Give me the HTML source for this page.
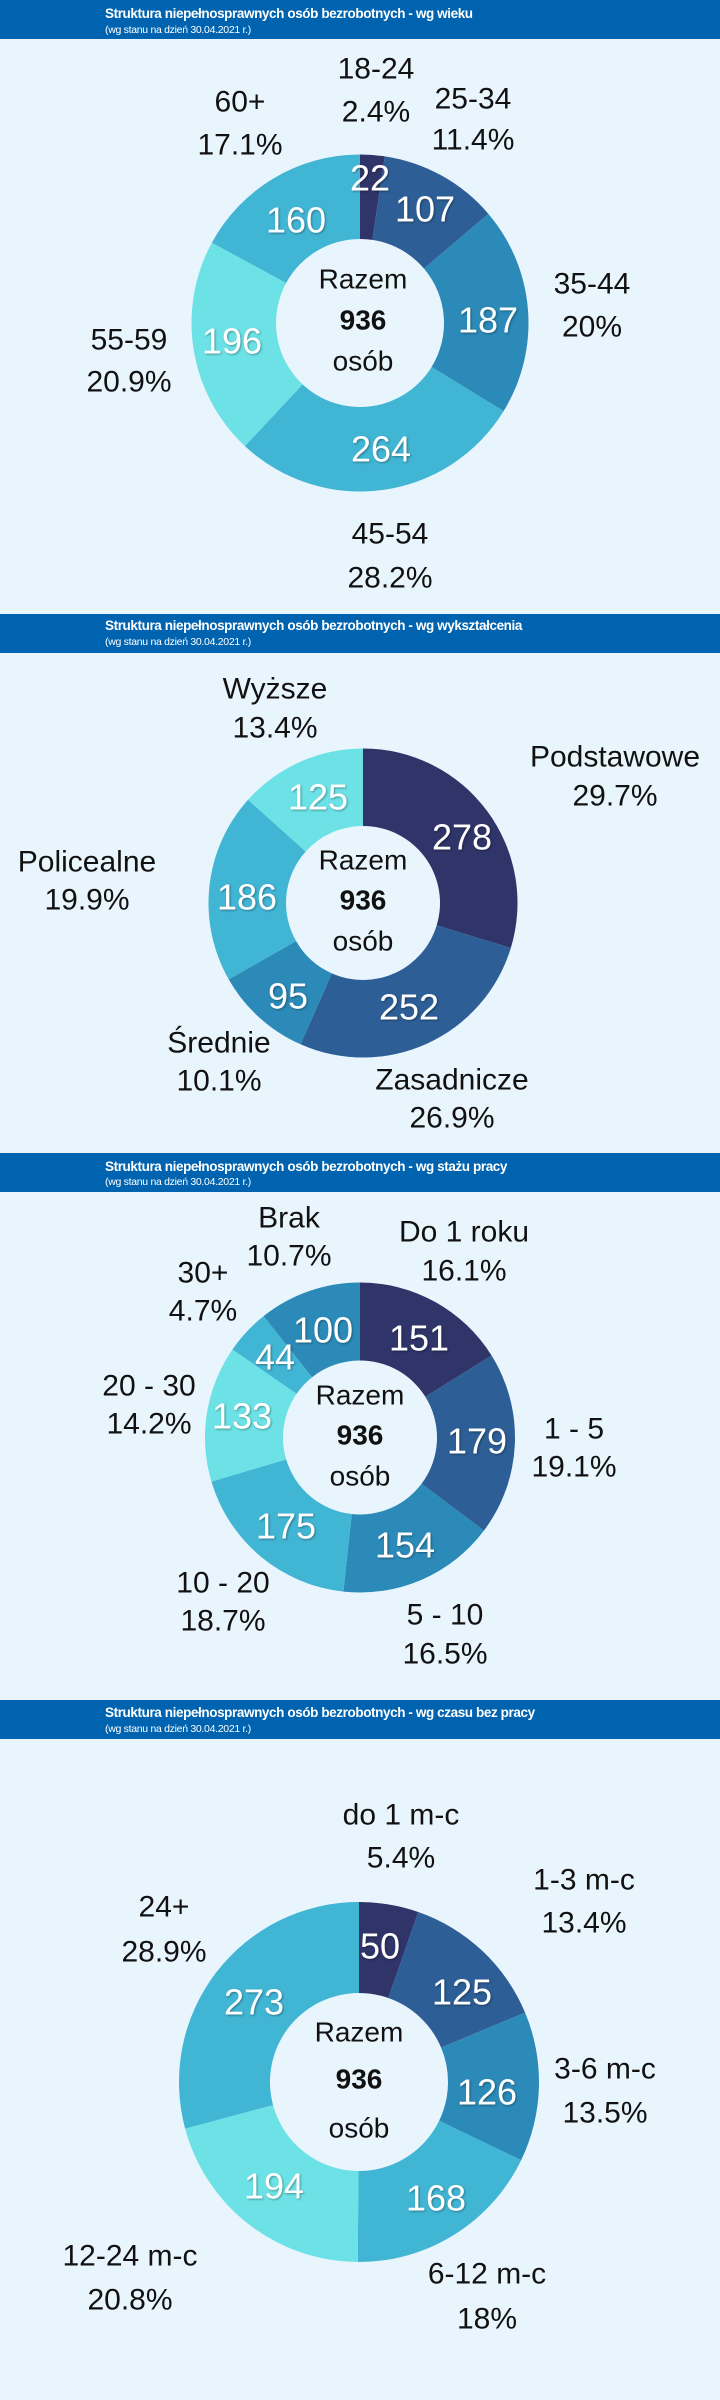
<!DOCTYPE html>
<html><head><meta charset="utf-8">
<style>
html,body{margin:0;padding:0;background:#e9f5fd;}
svg{display:block;}
text{font-family:"Liberation Sans",sans-serif;}
.h1{font-size:13.5px;font-weight:bold;fill:#fff;letter-spacing:-0.4px}
.h2{font-size:10.5px;fill:#fff;letter-spacing:-0.3px}
.lb{font-size:30px;fill:#111;text-anchor:middle;dominant-baseline:central}
.v{font-size:36px;fill:#fff;text-anchor:middle;dominant-baseline:central}
.c{font-size:28px;fill:#111;text-anchor:middle;dominant-baseline:central}
.cb{font-weight:bold}
</style></head><body>
<svg id="s" width="720" height="2400" viewBox="0 0 720 2400" xmlns="http://www.w3.org/2000/svg">
<defs><filter id="sh" x="-20%" y="-20%" width="140%" height="140%"><feDropShadow dx="1" dy="1" stdDeviation="1" flood-color="#000" flood-opacity="0.35"/></filter></defs>
<rect width="720" height="2400" fill="#e9f5fd"/>
<g id="arcs"></g>
<!-- headers -->
<rect x="0" y="0" width="720" height="39" fill="#0063b0"/>
<text class="h1" x="105" y="18">Struktura niepełnosprawnych osób bezrobotnych - wg wieku</text>
<text class="h2" x="105" y="33">(wg stanu na dzień 30.04.2021 r.)</text>
<rect x="0" y="614" width="720" height="39" fill="#0063b0"/>
<text class="h1" x="105" y="630">Struktura niepełnosprawnych osób bezrobotnych - wg wykształcenia</text>
<text class="h2" x="105" y="645">(wg stanu na dzień 30.04.2021 r.)</text>
<rect x="0" y="1153" width="720" height="39" fill="#0063b0"/>
<text class="h1" x="105" y="1171">Struktura niepełnosprawnych osób bezrobotnych - wg stażu pracy</text>
<text class="h2" x="105" y="1185">(wg stanu na dzień 30.04.2021 r.)</text>
<rect x="0" y="1700" width="720" height="39" fill="#0063b0"/>
<text class="h1" x="105" y="1717">Struktura niepełnosprawnych osób bezrobotnych - wg czasu bez pracy</text>
<text class="h2" x="105" y="1732">(wg stanu na dzień 30.04.2021 r.)</text>

<!-- chart 1 labels -->
<text class="lb" x="376" y="69">18-24</text><text class="lb" x="376" y="112">2.4%</text>
<text class="lb" x="473" y="99">25-34</text><text class="lb" x="473" y="140">11.4%</text>
<text class="lb" x="240" y="102">60+</text><text class="lb" x="240" y="145">17.1%</text>
<text class="lb" x="592" y="284">35-44</text><text class="lb" x="592" y="327">20%</text>
<text class="lb" x="129" y="340">55-59</text><text class="lb" x="129" y="382">20.9%</text>
<text class="lb" x="390" y="534">45-54</text><text class="lb" x="390" y="578">28.2%</text>
<text class="c" x="363" y="279">Razem</text><text class="c cb" x="363" y="320">936</text><text class="c" x="363" y="361">osób</text>
<g filter="url(#sh)">
<text class="v" x="370" y="178">22</text><text class="v" x="425" y="209">107</text><text class="v" x="488" y="320">187</text>
<text class="v" x="381" y="449">264</text><text class="v" x="232" y="341">196</text><text class="v" x="296" y="220">160</text>
</g>

<!-- chart 2 -->
<text class="lb" x="275" y="689">Wyższe</text><text class="lb" x="275" y="728">13.4%</text>
<text class="lb" x="615" y="757">Podstawowe</text><text class="lb" x="615" y="796">29.7%</text>
<text class="lb" x="87" y="862">Policealne</text><text class="lb" x="87" y="900">19.9%</text>
<text class="lb" x="219" y="1043">Średnie</text><text class="lb" x="219" y="1081">10.1%</text>
<text class="lb" x="452" y="1080">Zasadnicze</text><text class="lb" x="452" y="1118">26.9%</text>
<text class="c" x="363" y="860">Razem</text><text class="c cb" x="363" y="900">936</text><text class="c" x="363" y="941">osób</text>
<g filter="url(#sh)">
<text class="v" x="462" y="837">278</text><text class="v" x="409" y="1007">252</text><text class="v" x="288" y="996">95</text>
<text class="v" x="247" y="897">186</text><text class="v" x="318" y="797">125</text>
</g>

<!-- chart 3 -->
<text class="lb" x="289" y="1218">Brak</text><text class="lb" x="289" y="1256">10.7%</text>
<text class="lb" x="464" y="1232">Do 1 roku</text><text class="lb" x="464" y="1271">16.1%</text>
<text class="lb" x="203" y="1273">30+</text><text class="lb" x="203" y="1311">4.7%</text>
<text class="lb" x="149" y="1386">20 - 30</text><text class="lb" x="149" y="1424">14.2%</text>
<text class="lb" x="574" y="1429">1 - 5</text><text class="lb" x="574" y="1467">19.1%</text>
<text class="lb" x="223" y="1583">10 - 20</text><text class="lb" x="223" y="1621">18.7%</text>
<text class="lb" x="445" y="1615">5 - 10</text><text class="lb" x="445" y="1654">16.5%</text>
<text class="c" x="360" y="1395">Razem</text><text class="c cb" x="360" y="1435">936</text><text class="c" x="360" y="1476">osób</text>
<g filter="url(#sh)">
<text class="v" x="419" y="1338">151</text><text class="v" x="477" y="1441">179</text><text class="v" x="405" y="1545">154</text>
<text class="v" x="286" y="1526">175</text><text class="v" x="242" y="1416">133</text><text class="v" x="275" y="1357">44</text>
<text class="v" x="323" y="1330">100</text>
</g>

<!-- chart 4 -->
<text class="lb" x="401" y="1815">do 1 m-c</text><text class="lb" x="401" y="1858">5.4%</text>
<text class="lb" x="584" y="1880">1-3 m-c</text><text class="lb" x="584" y="1923">13.4%</text>
<text class="lb" x="164" y="1907">24+</text><text class="lb" x="164" y="1952">28.9%</text>
<text class="lb" x="605" y="2069">3-6 m-c</text><text class="lb" x="605" y="2113">13.5%</text>
<text class="lb" x="130" y="2256">12-24 m-c</text><text class="lb" x="130" y="2300">20.8%</text>
<text class="lb" x="487" y="2274">6-12 m-c</text><text class="lb" x="487" y="2319">18%</text>
<text class="c" x="359" y="2032">Razem</text><text class="c cb" x="359" y="2079">936</text><text class="c" x="359" y="2128">osób</text>
<g filter="url(#sh)">
<text class="v" x="380" y="1946">50</text><text class="v" x="462" y="1992">125</text><text class="v" x="487" y="2092">126</text>
<text class="v" x="436" y="2198">168</text><text class="v" x="274" y="2186">194</text><text class="v" x="254" y="2002">273</text>
</g>
</svg>
<script>
(function(){
var D='#2f3469',M='#2d5e96',B='#2b8ab8',L='#41b5d4',C='#6ce2e6';
var charts=[
 {cx:360,cy:323,rx:168.5,ry:168.5,ix:84,iy:84,v:[22,107,187,264,196,160],c:[D,M,B,L,C,L]},
 {cx:363,cy:903,rx:154.5,ry:154.5,ix:77,iy:77,v:[278,252,95,186,125],c:[D,M,B,L,C]},
 {cx:360,cy:1437.5,rx:155,ry:155,ix:77,iy:77,v:[151,179,154,175,133,44,100],c:[D,M,B,L,C,L,B]},
 {cx:359,cy:2082,rx:180,ry:180,ix:89,iy:89,v:[50,125,126,168,194,273],c:[D,M,B,L,C,L]}
];
var g=document.getElementById('arcs'),ns='http://www.w3.org/2000/svg';
charts.forEach(function(ch){
 var tot=ch.v.reduce(function(a,b){return a+b},0),a0=0;
 ch.v.forEach(function(val,i){
  var a1=a0+val/tot*2*Math.PI,lg=(a1-a0)>Math.PI?1:0;
  function P(rx,ry,a){return (ch.cx+rx*Math.sin(a)).toFixed(2)+' '+(ch.cy-ry*Math.cos(a)).toFixed(2);}
  var d='M'+P(ch.rx,ch.ry,a0)+' A'+ch.rx+' '+ch.ry+' 0 '+lg+' 1 '+P(ch.rx,ch.ry,a1)+
        ' L'+P(ch.ix,ch.iy,a1)+' A'+ch.ix+' '+ch.iy+' 0 '+lg+' 0 '+P(ch.ix,ch.iy,a0)+' Z';
  var p=document.createElementNS(ns,'path');p.setAttribute('d',d);p.setAttribute('fill',ch.c[i]);
  g.appendChild(p);a0=a1;
 });
});
})();
</script>
</body></html>
